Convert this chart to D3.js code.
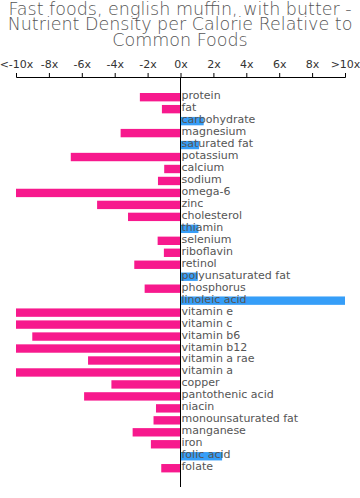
<!DOCTYPE html>
<html><head><meta charset="utf-8">
<script src="https://cdn.jsdelivr.net/npm/d3@7"></script>
<style>body{margin:0;background:#fff}svg{display:block}</style>
</head><body><div id="chart"></div>
<script>
const titleLines = ["Fast foods, english muffin, with butter -", "Nutrient Density per Calorie Relative to", "Common Foods"];
const nutrients = ["protein","fat","carbohydrate","magnesium","saturated fat","potassium","calcium","sodium","omega-6","zinc","cholesterol","thiamin","selenium","riboflavin","retinol","polyunsaturated fat","phosphorus","linoleic acid","vitamin e","vitamin c","vitamin b6","vitamin b12","vitamin a rae","vitamin a","copper","pantothenic acid","niacin","monounsaturated fat","manganese","iron","folic acid","folate"];
const values = [-2.47,-1.13,1.41,-3.64,1.13,-6.67,-0.99,-1.37,-10,-5.07,-3.19,1.09,-1.39,-1.01,-2.81,1.05,-2.18,10,-10,-10,-9.01,-10,-5.62,-10,-4.2,-5.86,-1.49,-1.64,-2.91,-1.8,2.53,-1.17];
const tickValues = [-10,-8,-6,-4,-2,0,2,4,6,8,10];
const tickLabels = ["<-10x","-8x","-6x","-4x","-2x","0x","2x","4x","6x","8x",">10x"];

const W = 360, H = 498;
const svg = d3.select("#chart").append("svg").attr("width", W).attr("height", H);
const font = "DejaVu Sans, sans-serif";

svg.append("g").selectAll("text").data(titleLines).join("text")
  .attr("x", 180).attr("y", (d,i) => 15 + i*15.3)
  .attr("text-anchor","middle").attr("font-family", font).attr("font-size", 17.5)
  .attr("font-weight", 200).attr("fill","#555").text(d => d);

const x = d3.scaleLinear().domain([-10,10]).range([16,345]);
const y = d3.scaleBand().domain(nutrients).range([91.2, 474.2]).paddingInner(0.3).paddingOuter(0.15);

const axis = d3.axisTop(x).tickValues(tickValues).tickFormat((d,i) => tickLabels[i]).tickSizeOuter(0).tickSize(4).tickPadding(5);
const ag = svg.append("g").attr("transform","translate(0,77)").call(axis);
ag.select(".domain").attr("stroke","#000");
ag.selectAll(".tick line").attr("stroke","#000");
ag.selectAll(".tick text").attr("font-family", font).attr("font-size", 11).attr("fill","#333");

svg.append("g").selectAll("rect").data(values).join("rect")
  .attr("x", d => Math.min(x(0), x(d)))
  .attr("width", d => Math.abs(x(d) - x(0)))
  .attr("y", (d,i) => y(nutrients[i]))
  .attr("height", y.bandwidth())
  .attr("fill", d => d < 0 ? "#f7198d" : "#369ef8");

svg.append("line").attr("x1", x(0)).attr("x2", x(0)).attr("y1", 77).attr("y2", 487).attr("stroke","#000");

svg.append("g").selectAll("text").data(nutrients).join("text")
  .attr("x", x(0) + 1).attr("y", d => y(d) + y.bandwidth()/2 + 2)
  .attr("font-family", font).attr("font-size", 11).attr("fill","#555")
  .text(d => d);
</script></body></html>
